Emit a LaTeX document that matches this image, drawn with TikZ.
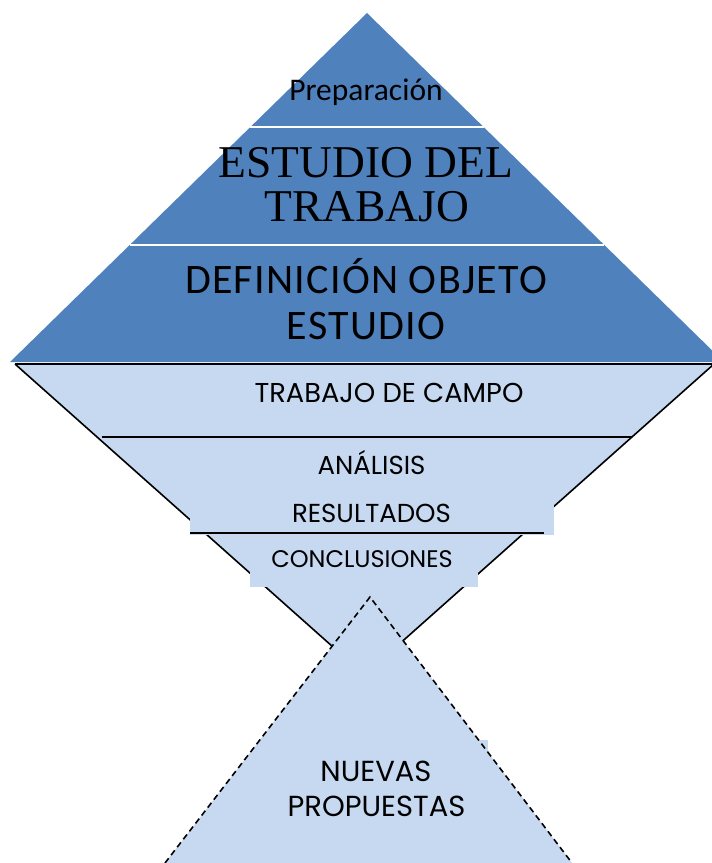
\documentclass[tikz,border=0pt]{standalone}
\usepackage{fontspec}
\setmainfont{Poppins}
\newfontfamily\calfont{Carlito}
\newfontfamily\timesfont{Liberation Serif}
\definecolor{darkblue}{HTML}{4F81BD}
\definecolor{lightblue}{HTML}{C6D9F1}
\tikzset{
  lbl/.style={anchor=base,inner sep=0pt},
  sepline/.style={white,line width=2.5pt},
  stageline/.style={black,line width=1.6pt}
}
\begin{document}
\begin{tikzpicture}[x=1pt,y=-1pt,thick]
\useasboundingbox (0,0) rectangle (712,863);
\clip (0,0) rectangle (712,863);
% upper pyramid
\fill[darkblue] (367,13) -- (10,362) -- (724,362) -- cycle;
\draw[sepline] (250,127) -- (484,127);
\draw[sepline] (130,245) -- (604,245);
% funnel
\fill[lightblue] (15,364) -- (714,364) -- (364.5,675) -- cycle;
\draw[line width=2.2pt] (15,364) -- (714,364);
\draw[stageline] (15,364) -- (364.5,675) -- (714,364);
\fill[lightblue] (190,365.2) rectangle (589,437);
\fill[lightblue] (190,437) rectangle (554,535);
\fill[lightblue] (250,535) rectangle (478,587);
\draw[stageline] (102,437) -- (632,437);
\draw[stageline] (190,533) -- (544,533);
% lower triangle
\fill[lightblue] (370,597) -- (165,863) -- (572,863) -- cycle;
\fill[lightblue] (264,740) rectangle (488,863);
\draw[stageline,dash pattern=on 6pt off 4pt] (165,863) -- (370,597) -- (572,863);
% texts
\node[lbl,font=\calfont\fontsize{31.5}{36}\selectfont] (prep) at (366,100) {Preparación};
\node[lbl,font=\timesfont\fontsize{45.5}{50}\selectfont] (est1) at (366,177) {ESTUDIO DEL};
\node[lbl,font=\timesfont\fontsize{45.5}{50}\selectfont] (est2) at (367,221) {TRABAJO};
\node[lbl,font=\calfont\addfontfeature{LetterSpace=3}\fontsize{42}{46}\selectfont] (def1) at (366,293) {DEFINICIÓN OBJETO};
\node[lbl,font=\calfont\addfontfeature{LetterSpace=3}\fontsize{42}{46}\selectfont] (def2) at (366,339) {ESTUDIO};
\node[lbl,font=\fontsize{27.3}{31}\selectfont] (campo) at (389,402) {TRABAJO DE CAMPO};
\node[lbl,font=\fontsize{26}{30}\selectfont] (anal) at (371.5,474) {ANÁLISIS};
\node[lbl,font=\fontsize{26}{30}\selectfont] (res) at (371.5,522) {RESULTADOS};
\node[lbl,font=\fontsize{24}{28}\selectfont] (concl) at (362,567) {CONCLUSIONES};
\node[lbl,font=\fontsize{29}{33}\selectfont] (nuev1) at (376,781) {NUEVAS};
\node[lbl,font=\fontsize{29}{33}\selectfont] (nuev2) at (376.5,816) {PROPUESTAS};
\end{tikzpicture}
\end{document}
